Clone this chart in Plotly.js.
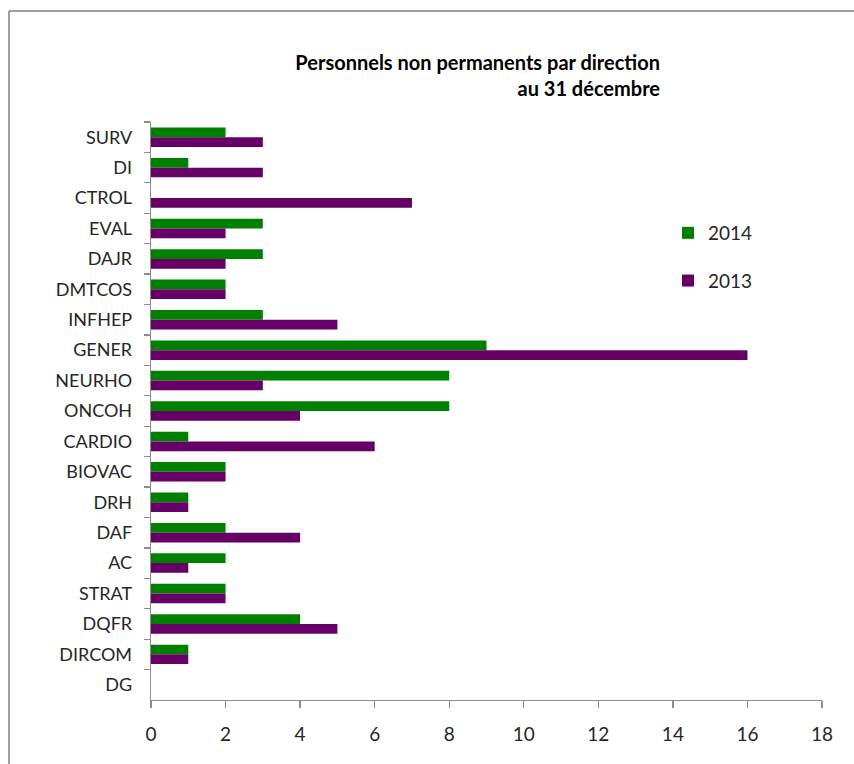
<!DOCTYPE html>
<html>
<head>
<meta charset="utf-8">
<script src="https://cdn.plot.ly/plotly-3.0.1.min.js"></script>
<style>html,body{margin:0;padding:0;background:#fff;}#chart{width:854px;height:764px;}</style>
</head>
<body>
<div id="chart"></div>
<script>
const categories = ["SURV","DI","CTROL","EVAL","DAJR","DMTCOS","INFHEP","GENER","NEURHO","ONCOH","CARDIO","BIOVAC","DRH","DAF","AC","STRAT","DQFR","DIRCOM","DG"];
const values2014 = [2,1,0,3,3,2,3,9,8,8,1,2,1,2,2,2,4,1,0];
const values2013 = [3,3,7,2,2,2,5,16,3,4,6,2,1,4,1,2,5,1,0];
const xTicks = [0,2,4,6,8,10,12,14,16,18];
const titleText = "Personnels non permanents par direction<br>au 31 décembre";

const W = 854, H = 764, L = 151, R = 32, T = 122, B = 64;
const pw = W - L - R, ph = H - T - B;
const px2x = p => (p - L) / pw;
const px2y = p => (H - B - p) / ph;

const font = "Lato, 'Open Sans', sans-serif";
const traces = [
  {type:"bar", orientation:"h", name:"2014", y:categories, x:values2014,
   marker:{color:"#008000"}, legendgroup:"a"},
  {type:"bar", orientation:"h", name:"2013", y:categories, x:values2013,
   marker:{color:"#660066"}, legendgroup:"b"}
];
const layout = {
  width:W, height:H,
  margin:{l:L, r:R, t:T, b:B, pad:0},
  paper_bgcolor:"#fff", plot_bgcolor:"#fff",
  font:{family:font, size:18, color:"#262626"},
  barmode:"group", bargap:0.36, bargroupgap:0,
  title:{text:titleText, font:{family:font, size:20, color:"#000", weight:"bold"},
         xref:"container", yref:"container", x:660/W, xanchor:"right",
         y:1-70/H, yanchor:"top"},
  xaxis:{range:[0,18], tickvals:xTicks, ticktext:xTicks.map(String),
         showgrid:false, zeroline:false, showline:true, linecolor:"#8c8c8c", linewidth:1.3,
         ticks:"outside", ticklen:7, tickcolor:"#8c8c8c", tickwidth:1.3,
         ticklabelstandoff:10,
         tickfont:{size:19, color:"#262626"}, fixedrange:true},
  yaxis:{type:"category", categoryorder:"array", categoryarray:categories, autorange:"reversed",
         showgrid:false, zeroline:false, showline:true, linecolor:"#8c8c8c", linewidth:1.3,
         ticks:"outside", ticklen:6, tickcolor:"#8c8c8c", tickwidth:1.3, tickson:"boundaries",
         ticklabelstandoff:14,
         tickfont:{size:18, color:"#262626"}, fixedrange:true},
  legend:{x:px2x(668), y:px2y(214), xanchor:"left", yanchor:"top",
          traceorder:"grouped", tracegroupgap:20, bgcolor:"rgba(0,0,0,0)",
          font:{size:19, color:"#262626"}},
  shapes:[
    {type:"line", xref:"paper", yref:"paper", x0:px2x(9), x1:px2x(860), y0:px2y(11), y1:px2y(11),
     line:{color:"#7f7f7f", width:1.5}},
    {type:"line", xref:"paper", yref:"paper", x0:px2x(9), x1:px2x(9), y0:px2y(11), y1:px2y(770),
     line:{color:"#7f7f7f", width:1.5}}
  ]
};
Plotly.newPlot("chart", traces, layout, {displayModeBar:false, staticPlot:true});
</script>
</body>
</html>
